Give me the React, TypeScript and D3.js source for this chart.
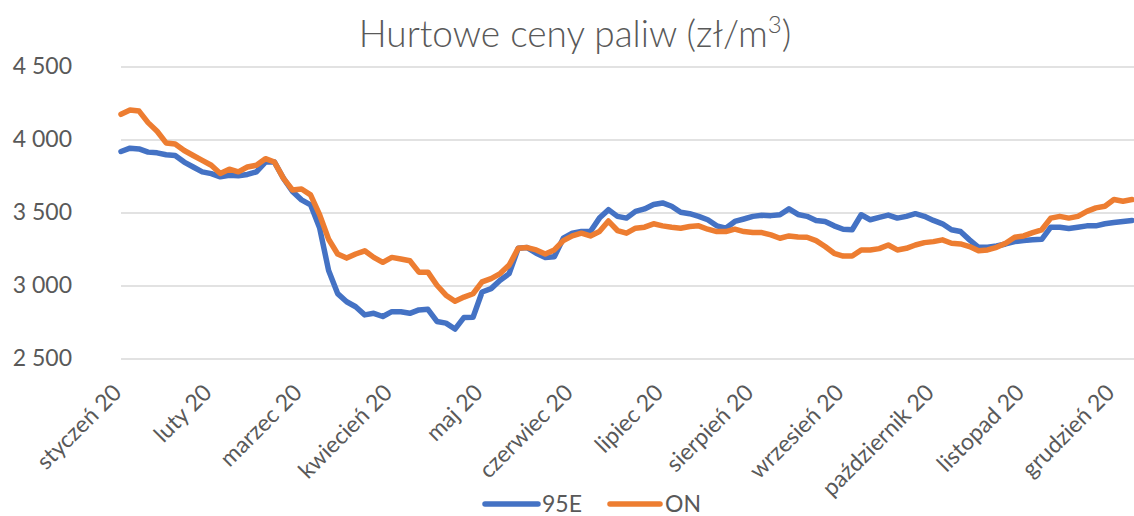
import * as d3 from "d3";

const monthLabels = [
  "styczeń 20", "luty 20", "marzec 20", "kwiecień 20", "maj 20", "czerwiec 20",
  "lipiec 20", "sierpień 20", "wrzesień 20", "październik 20", "listopad 20", "grudzień 20",
];

// one label every 10 data points
const labelStep = 10;

const yTicks = [2500, 3000, 3500, 4000, 4500];

// 95E
const pb95 = [
  3921, 3944, 3939, 3917, 3912, 3899, 3894, 3849, 3815, 3782,
  3770, 3748, 3759, 3755, 3764, 3782, 3849, 3849, 3737, 3647,
  3590, 3556, 3399, 3106, 2948, 2892, 2858, 2802, 2813, 2791,
  2824, 2824, 2813, 2836, 2840, 2757, 2746, 2705, 2785, 2786,
  2959, 2982, 3039, 3085, 3258, 3263, 3224, 3196, 3200, 3327,
  3362, 3373, 3373, 3465, 3523, 3477, 3465, 3511, 3528, 3558,
  3569, 3546, 3505, 3495, 3477, 3454, 3412, 3396, 3442, 3459,
  3477, 3484, 3482, 3488, 3528, 3490, 3477, 3449, 3442, 3412,
  3389, 3385, 3488, 3454, 3470, 3486, 3465, 3477, 3495, 3477,
  3449, 3426, 3385, 3373, 3316, 3265, 3265, 3274, 3288, 3304,
  3311, 3316, 3320, 3403, 3403, 3394, 3403, 3412, 3412, 3426,
  3435, 3442, 3449,
];

// ON
const diesel = [
  4176, 4205, 4198, 4119, 4060, 3980, 3973, 3928, 3894, 3860,
  3827, 3770, 3800, 3782, 3815, 3827, 3872, 3849, 3737, 3658,
  3664, 3624, 3489, 3320, 3219, 3191, 3219, 3241, 3196, 3162,
  3196, 3185, 3173, 3095, 3095, 3005, 2937, 2895, 2924, 2947,
  3028, 3051, 3085, 3143, 3258, 3263, 3247, 3219, 3247, 3311,
  3343, 3362, 3343, 3373, 3445, 3380, 3362, 3396, 3403, 3426,
  3412, 3403, 3396, 3408, 3412, 3389, 3373, 3373, 3389, 3373,
  3366, 3366, 3350, 3327, 3343, 3335, 3334, 3311, 3270, 3224,
  3205, 3205, 3247, 3247, 3256, 3281, 3247, 3258, 3281, 3297,
  3304, 3316, 3293, 3288, 3270, 3242, 3247, 3265, 3293, 3334,
  3343, 3366, 3385, 3465, 3477, 3465, 3477, 3511, 3535, 3546,
  3592, 3581, 3592,
];

const seriesNames = ["95E", "ON"];
const colors = ["#4472C4", "#ED7D31"];

const width = 1134;
const height = 516;
const font = "Lato, 'Open Sans', sans-serif";
const textColor = "#595959";

const plLocale = d3.formatLocale({
  decimal: ",",
  thousands: " ",
  grouping: [3],
  currency: ["", " zł"],
});
const fmt = plLocale.format(",");

export default function App() {
  const x = d3.scaleLinear().domain([0, pb95.length - 1]).range([121, 1132]);
  const y = d3.scaleLinear().domain([2500, 4500]).range([359, 67]);

  const line = d3
    .line<number>()
    .x((_, i) => x(i))
    .y((d) => y(d));

  const series = [pb95, diesel];

  return (
    <svg
      width={width}
      height={height}
      style={{ position: "absolute", left: 0, top: 0, background: "#fff" }}
      fontFamily={font}
    >
      <text x={575} y={47} textAnchor="middle" fontSize={37} fontWeight={300} fill={textColor}>
        Hurtowe ceny paliw (zł/m
        <tspan fontSize={24} dy={-14}>3</tspan>
        <tspan dy={14}>)</tspan>
      </text>

      {yTicks.map((t) => (
        <g key={t}>
          <line x1={121} x2={1134} y1={y(t)} y2={y(t)} stroke="#d9d9d9" strokeWidth={1.5} />
          <text x={72} y={y(t) + 7} textAnchor="end" fontSize={23} fill={textColor}>
            {fmt(t)}
          </text>
        </g>
      ))}

      {monthLabels.map((m, k) => {
        const tx = x(k * labelStep) + 2;
        const ty = 394;
        return (
          <text
            key={m}
            x={tx}
            y={ty}
            textAnchor="end"
            fontSize={23}
            fill={textColor}
            transform={`rotate(-45, ${tx}, ${ty})`}
          >
            {m}
          </text>
        );
      })}

      {series.map((s, i) => (
        <path
          key={seriesNames[i]}
          d={line(s) || ""}
          fill="none"
          stroke={colors[i]}
          strokeWidth={5.5}
          strokeLinejoin="round"
          strokeLinecap="round"
        />
      ))}

      <g>
        <line x1={485} x2={538} y1={504} y2={504} stroke={colors[0]} strokeWidth={5.5} strokeLinecap="round" />
        <text x={542} y={512} fontSize={23} fill={textColor}>{seriesNames[0]}</text>
        <line x1={610} x2={660} y1={504} y2={504} stroke={colors[1]} strokeWidth={5.5} strokeLinecap="round" />
        <text x={665} y={512} fontSize={23} fill={textColor}>{seriesNames[1]}</text>
      </g>
    </svg>
  );
}
